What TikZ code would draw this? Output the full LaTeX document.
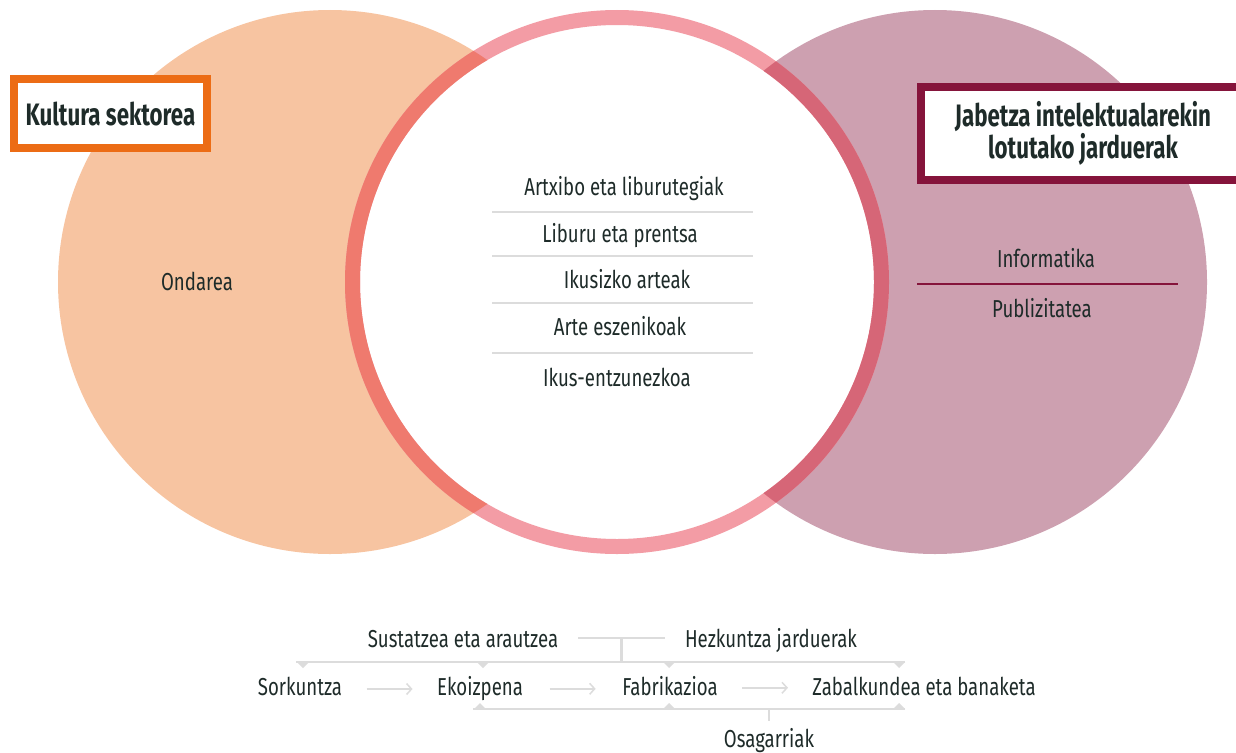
\documentclass[tikz,border=0pt]{standalone}
\usepackage{fontspec}
\setmainfont[FakeStretch=0.76]{Fira Sans}
\newfontfamily\headfont[FakeStretch=0.72]{Fira Sans}
\usepackage{xcolor}
\usepackage{tikz}
\usetikzlibrary{arrows.meta,positioning,calc}

\definecolor{peach}{HTML}{F7C4A1}
\definecolor{mauve}{HTML}{CDA0B0}
\definecolor{ringpink}{HTML}{F39CA5}
\definecolor{ringsalmon}{HTML}{EF7A6E}
\definecolor{ringdark}{HTML}{D66677}
\definecolor{boxorange}{HTML}{EC6C15}
\definecolor{boxmaroon}{HTML}{85143B}
\definecolor{inkdark}{HTML}{1E2B29}
\definecolor{palegray}{HTML}{DCDCDC}

\begin{document}
\begin{tikzpicture}[x=1pt, y=-1pt,
    txt/.style={inner sep=0pt, anchor=base, text=inkdark, font=\fontsize{24.5}{28}\selectfont},
    head/.style={text=inkdark, align=center, font=\headfont\bfseries\fontsize{31}{28}\selectfont},
    flow/.style={palegray, line width=1.5pt, -{Straight Barb[length=5pt, width=11pt]}},
    bracket/.style={palegray, line width=2.5pt}]
    \clip (0,0) rectangle (1236,752);

    % Three circles
    \fill[peach] (330,282) circle[radius=272pt];
    \fill[mauve] (935,282) circle[radius=272pt];
    \fill[white] (617,282) circle[radius=265pt];
    \draw[ringpink, line width=15pt] (617,282) circle[radius=264.5pt];
    \begin{scope}
        \clip (330,282) circle[radius=272pt];
        \draw[ringsalmon, line width=15pt] (617,282) circle[radius=264.5pt];
    \end{scope}
    \begin{scope}
        \clip (935,282) circle[radius=272pt];
        \draw[ringdark, line width=15pt] (617,282) circle[radius=264.5pt];
    \end{scope}

    % Headings
    \node[head, draw=boxorange, fill=white, line width=8pt, minimum width=193pt, minimum height=69pt] (kultura) at (110.5,113.5) {Kultura sektorea};
    \node[head, draw=boxmaroon, fill=white, line width=8pt, minimum width=324pt, minimum height=93pt] (jabetza) at (1083,133.5) {Jabetza intelektualarekin\\lotutako jarduerak};

    % Left and right circle
    \node[txt] (ondarea) at (197,290) {Ondarea};
    \node[txt] (informatika) at (1046,267) {Informatika};
    \node[txt] (publizitatea) at (1042,317) {Publizitatea};
    \draw[boxmaroon, line width=2pt] (917,284) -- (1178,284);

    % Middle list
    \node[txt] (artxibo) at (624,195.5) {Artxibo eta liburutegiak};
    \node[txt] (liburu) at (620,242.5) {Liburu eta prentsa};
    \node[txt] (ikusizko) at (627,288.5) {Ikusizko arteak};
    \node[txt] (arte) at (620,335.5) {Arte eszenikoak};
    \node[txt] (ikus) at (617,386.5) {Ikus-entzunezkoa};
    \foreach \y in {212,256,303,353}
        \draw[palegray, line width=2pt] (492,\y) -- (753,\y);

    % Value chain
    \node[txt] (sustatzea) at (463,647) {Sustatzea eta arautzea};
    \node[txt] (hezkuntza) at (771,647) {Hezkuntza jarduerak};
    \node[txt] (sorkuntza) at (300,695) {Sorkuntza};
    \node[txt] (ekoizpena) at (480,695) {Ekoizpena};
    \node[txt] (fabrikazioa) at (670,695) {Fabrikazioa};
    \node[txt] (zabalkundea) at (924,695) {Zabalkundea eta banaketa};
    \node[txt] (osagarriak) at (769,747) {Osagarriak};

    \foreach \a/\b in {sorkuntza/ekoizpena, ekoizpena/fabrikazioa, fabrikazioa/zabalkundea} {
        \coordinate (m) at ($(\a.east)!.5!(\b.west)$);
        \draw[flow] ([xshift=-23pt, yshift=-2pt]m) -- ([xshift=23pt, yshift=-2pt]m);
    }

    \coordinate (upper row) at (0,638);
    \coordinate (top west) at (296,662);
    \coordinate (top east) at (905,662);
    \coordinate (low west) at (473,709);
    \coordinate (low east) at (905,709);
    \draw[bracket, shorten <=20pt, shorten >=20pt] (sustatzea.east |- upper row) -- (hezkuntza.west |- upper row);
    \coordinate (join) at ($(sustatzea.east |- upper row)!.5!(hezkuntza.west |- upper row)$);
    \draw[bracket] (join) -- (join |- top west);
    \draw[bracket] (top west) -- (top east);
    \draw[bracket] (low west) -- (low east);
    \draw[bracket] (osagarriak.north |- low west) -- ++(0,12);
    \foreach \x in {303,483,669,899}
        \fill[palegray] (\x-6,662) -- (\x+6,662) -- (\x,668) -- cycle;
    \foreach \x in {480,669,899}
        \fill[palegray] (\x-6,709) -- (\x+6,709) -- (\x,703) -- cycle;
\end{tikzpicture}
\end{document}
